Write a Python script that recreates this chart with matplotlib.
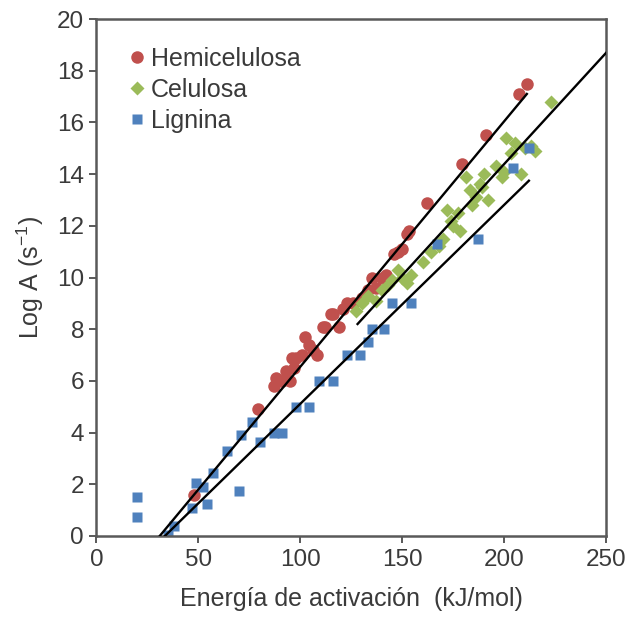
import numpy as np
import matplotlib
matplotlib.use("Agg")
import matplotlib.pyplot as plt

plt.rcParams['font.family'] = ['Liberation Sans', 'DejaVu Sans']
plt.rcParams['mathtext.fontset'] = 'custom'
plt.rcParams['mathtext.rm'] = 'Liberation Sans'
plt.rcParams['mathtext.it'] = 'Liberation Sans:italic'

# Hemicelulosa (red circles)
hemiX = [48, 79, 87, 88, 91, 93, 95, 96, 97, 98, 101, 102, 104, 106, 108, 111, 112, 115,
         116, 119, 121, 123, 126, 130, 133, 135, 137, 140, 142, 146, 148, 150, 152, 153,
         162, 179, 191, 207, 211]
hemiY = [1.6, 4.9, 5.8, 6.1, 6.0, 6.4, 6.0, 6.9, 6.5, 6.9, 7.0, 7.7, 7.4, 7.2, 7.0, 8.1,
         8.1, 8.6, 8.6, 8.1, 8.8, 9.0, 9.0, 9.2, 9.5, 10.0, 9.6, 10.0, 10.1, 10.9, 11.0,
         11.1, 11.7, 11.8, 12.9, 14.4, 15.5, 17.1, 17.5]

# Celulosa (green diamonds)
celuX = [127, 130, 133, 137, 140, 143, 145, 148, 150, 152, 154, 160, 164, 168, 172, 175,
         177, 178, 181, 184, 186, 188, 189, 190, 192, 199, 200, 201, 203, 205, 208, 213,
         215, 223, 170, 174, 183, 196, 210]
celuY = [8.7, 9.0, 9.3, 9.1, 9.5, 9.7, 9.9, 10.3, 10.0, 9.8, 10.1, 10.6, 11.0, 11.2, 12.6,
         12.0, 12.5, 11.8, 13.9, 12.8, 13.1, 13.6, 13.5, 14.0, 13.0, 13.9, 14.1, 15.4, 14.8,
         15.2, 14.0, 15.1, 14.9, 16.8, 11.5, 12.2, 13.4, 14.3, 15.0]

# Lignina (blue squares)
lignX = [20, 20, 35, 38, 47, 49, 52, 54, 57, 64, 70, 71, 76, 80, 87, 91, 98, 104, 109, 116,
         123, 129, 133, 135, 141, 145, 154, 167, 187, 204, 212]
lignY = [1.5, 0.75, 0.05, 0.4, 1.1, 2.05, 1.9, 1.25, 2.45, 3.3, 1.75, 3.9, 4.4, 3.65, 4.0,
         4.0, 5.0, 5.0, 6.0, 6.0, 7.0, 7.0, 7.5, 8.0, 8.0, 9.0, 9.0, 11.3, 11.5, 14.25, 15.0]

# linear trend lines: slope, intercept, x range
fitSlope = [0.095, 0.0861, 0.077]
fitIntercept = [-2.945, -2.82, -2.58]
fitRange = [(31, 211), (128, 250), (33.5, 212)]

fig = plt.figure(figsize=(6.39, 6.25), dpi=100)
ax = fig.add_axes([0.151, 0.1424, 0.798, 0.8272])

ax.plot(hemiX, hemiY, 'o', color='#C0504D', ms=9, mec='none', label='Hemicelulosa', zorder=2)
ax.plot(celuX, celuY, 'D', color='#9BBB59', ms=7, mec='none', label='Celulosa', zorder=2)
ax.plot(lignX, lignY, 's', color='#4F81BD', ms=7, mec='none', label='Lignina', zorder=2)

for m, b, (x0, x1) in zip(fitSlope, fitIntercept, fitRange):
  xs = np.array([x0, x1])
  ax.plot(xs, m * xs + b, color='black', lw=1.7, zorder=3)

ax.set_xlim(0, 250)
ax.set_ylim(0, 20)
ax.set_xticks(range(0, 251, 50))
ax.set_yticks(range(0, 21, 2))
for s in ax.spines.values():
  s.set_color('#595959')
  s.set_linewidth(1.8)
ax.tick_params(direction='out', length=5, width=1.4, color='#595959',
               labelsize=17.5, labelcolor='#3a3a3a', pad=4)
ax.set_xlabel('Energía de activación  (kJ/mol)', fontsize=18, color='#3a3a3a', labelpad=12)
ax.set_ylabel('Log A (s$^{-1}$)', fontsize=18, color='#3a3a3a', labelpad=8)

ax.legend(loc='upper left', bbox_to_anchor=(0.04, 0.97), frameon=False, fontsize=18,
          handlelength=0.6, handletextpad=0.25, labelspacing=0.28, borderpad=0,
          labelcolor='#3a3a3a')

fig.savefig('out.png', dpi=100)
